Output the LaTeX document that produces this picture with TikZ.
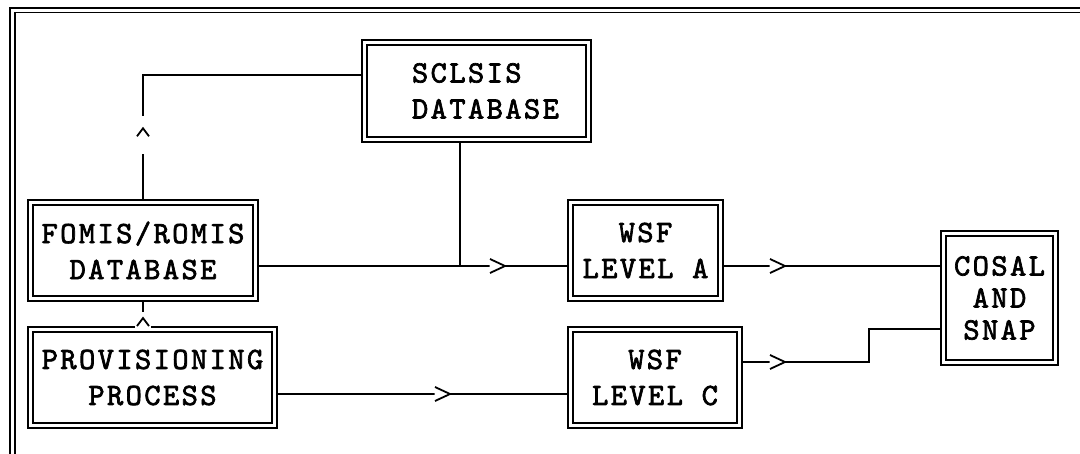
\documentclass[tikz,border=0pt]{standalone}
\usepackage{fontspec}
\newfontfamily\cour{lmmono10-regular.otf}[LetterSpace=7.7,FakeBold=2.2]
\usetikzlibrary{decorations.markings}
\tikzset{
  box/.style={draw, line width=1.4pt, double, double distance=3.6pt,
    outer sep=3.2pt, inner sep=0pt, align=center,
    font=\cour\fontsize{31}{36}\selectfont},
  conn/.style={line width=1.5pt},
  chev/.style={postaction={decorate}, decoration={markings,
    mark=at position #1 with {
      \fill[white] (-15.5pt,-7pt) -- (0.5pt,0pt) -- (-15.5pt,7pt) -- cycle;
      \draw[line width=1.8pt] (-15pt,-7pt) -- (0pt,0pt) -- (-15pt,7pt);}}},
  caret/.style n args={3}{postaction={decorate}, decoration={markings,
    mark=at position #1 with {
      \fill[white] (#2,-8pt) rectangle (#3,8pt);
      \draw[line width=1.8pt] (-8pt,-6pt) -- (0pt,0pt) -- (-8pt,6pt);}}}
}
\begin{document}
\begin{tikzpicture}[x=1pt,y=-1pt]
\useasboundingbox (0,0) rectangle (1080,453);
% outer frame
\draw[line width=1.3pt, double, double distance=3.5pt] (12.5,470) -- (12.5,10.3) -- (1100,10.3);
% boxes
\node[box, minimum width=224pt, minimum height=97pt, text width=129pt, align=left] (sclsis) at (476.5,91) {SCLSIS\\DATABASE};
\node[box, minimum width=225pt, minimum height=96pt] (fomis) at (143,250.5) {FOMIS/ROMIS\\DATABASE};
\node[box, minimum width=244pt, minimum height=96pt] (prov) at (152.5,377.5) {PROVISIONING\\PROCESS};
\node[box, minimum width=150pt, minimum height=96pt] (wsfa) at (645.5,250.5) {WSF\\LEVEL A};
\node[box, minimum width=169pt, minimum height=96pt] (wsfc) at (655,377.5) {WSF\\LEVEL C};
\node[box, minimum width=112pt, minimum height=129pt, font=\cour\fontsize{31}{32}\selectfont] (cosal) at (999.5,298) {COSAL\\AND\\SNAP};
% helper coordinates
\coordinate (tl) at (143,75);
\coordinate (ja) at (460,266);
\coordinate (jc) at (869,362);
\coordinate (jc2) at (869,329);
\coordinate (jp) at (277,394);
% connectors
\draw[conn, caret={71pt}{-26pt}{12pt}] (fomis.north) -- (tl) -- (sclsis.west |- tl);
\draw[conn, caret={8.3pt}{-10pt}{6pt}] (fomis.south |- prov.north) -- (fomis.south);
\draw[conn] (sclsis.south -| ja) -- (ja);
\draw[conn, chev=246.3pt] (fomis.east |- ja) -- (wsfa.west |- ja);
\draw[conn, chev=61.3pt] (wsfa.east |- ja) -- (cosal.west |- ja);
\draw[conn, chev=42.3pt] (wsfc.east |- jc) -- (jc) -- (jc2) -- (cosal.west |- jc2);
\draw[conn, chev=172.3pt] (prov.east |- jp) -- (wsfc.west |- jp);
\end{tikzpicture}
\end{document}
